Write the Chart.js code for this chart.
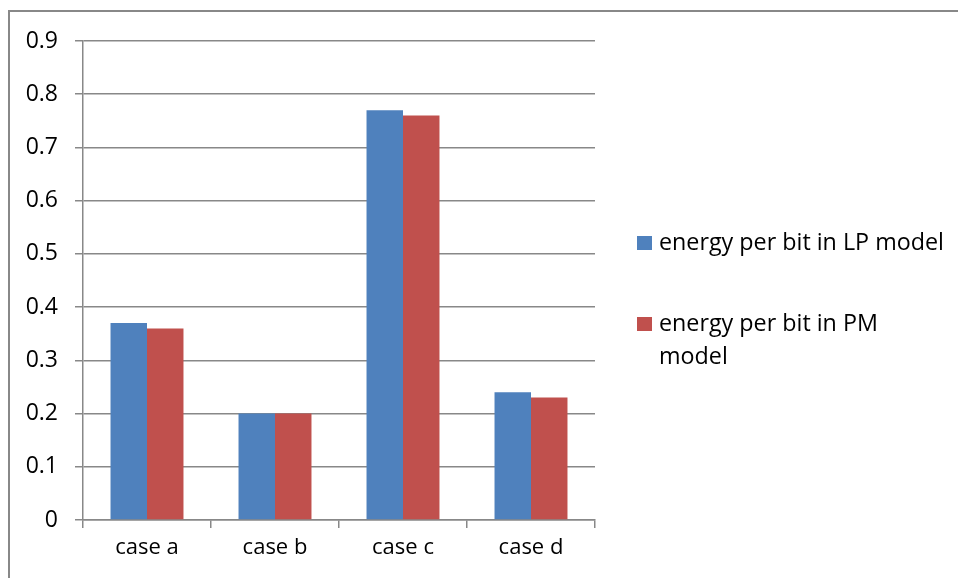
<!DOCTYPE html>
<html>
<head>
<meta charset="utf-8">
<script src="https://cdn.jsdelivr.net/npm/chart.js@4.4.0/dist/chart.umd.min.js"></script>
<style>
  html, body { margin: 0; padding: 0; background: #fff; }
  #wrap { position: relative; width: 958px; height: 578px; overflow: hidden; }
  #frame { position: absolute; left: 8px; top: 10px; width: 1200px; height: 1200px; border: 2px solid #888; }
  canvas { position: absolute; left: 0; top: 0; }
</style>
</head>
<body>
<div id="wrap">
  <div id="frame"></div>
  <canvas id="myChart" width="958" height="578"></canvas>
</div>
<script>
const categories = ['case a', 'case b', 'case c', 'case d'];
const lpValues = [0.37, 0.2, 0.77, 0.24];
const pmValues = [0.36, 0.2, 0.76, 0.23];
const seriesNames = ['energy per bit in LP model', 'energy per bit in PM model'];
const yTickLabels = ['0', '0.1', '0.2', '0.3', '0.4', '0.5', '0.6', '0.7', '0.8', '0.9'];

const FONT = "'Open Sans', sans-serif";
const GRID = '#888888';

// legend on the right, wraps long names like excel does
const sideLegend = {
  id: 'sideLegend',
  afterDraw(chart) {
    const ctx = chart.ctx;
    ctx.save();
    ctx.font = '23.3px ' + FONT;
    ctx.textBaseline = 'middle';
    ctx.fillStyle = '#000';
    const boxX = 637, textX = 659, maxW = 287, lineH = 33;
    let y = 243;
    chart.data.datasets.forEach((ds) => {
      // simple word wrap
      const words = ds.label.split(' ');
      let lines = [], cur = '';
      words.forEach((w) => {
        const t = cur ? cur + ' ' + w : w;
        if (ctx.measureText(t).width > maxW && cur) { lines.push(cur); cur = w; }
        else cur = t;
      });
      lines.push(cur);
      ctx.fillStyle = ds.backgroundColor;
      ctx.fillRect(boxX, y - 7, 15, 14);
      ctx.fillStyle = '#000';
      lines.forEach((l, i) => ctx.fillText(l, textX, y + i * lineH));
      y += 81;
    });
    ctx.restore();
  }
};

new Chart(document.getElementById('myChart'), {
  type: 'bar',
  data: {
    labels: categories,
    datasets: [
      { label: seriesNames[0], data: lpValues, backgroundColor: '#4F81BD' },
      { label: seriesNames[1], data: pmValues, backgroundColor: '#C0504D' }
    ]
  },
  options: {
    responsive: false,
    animation: false,
    layout: { padding: { left: 0, right: 363, top: 41, bottom: 0 } },
    datasets: { bar: { barPercentage: 1, categoryPercentage: 0.57 } },
    plugins: { legend: { display: false }, tooltip: { enabled: false } },
    scales: {
      x: {
        grid: { display: true, drawOnChartArea: false, drawTicks: true, tickLength: 8, color: GRID, lineWidth: 1.5, offset: true },
        border: { display: true, color: GRID, width: 1.5 },
        ticks: { color: '#000', font: { family: FONT, size: 22 }, padding: 7, maxRotation: 0 },
        afterFit(scale) { scale.height = 58; }
      },
      y: {
        min: 0,
        max: 0.9,
        grid: { color: GRID, lineWidth: 1.5, tickLength: 8 },
        border: { display: true, color: GRID, width: 1.5 },
        ticks: {
          stepSize: 0.1,
          color: '#000',
          font: { family: FONT, size: 23 },
          padding: 17,
          callback: (v, i) => yTickLabels[i]
        },
        afterFit(scale) { scale.width = 83; }
      }
    }
  },
  plugins: [sideLegend]
});
</script>
</body>
</html>
